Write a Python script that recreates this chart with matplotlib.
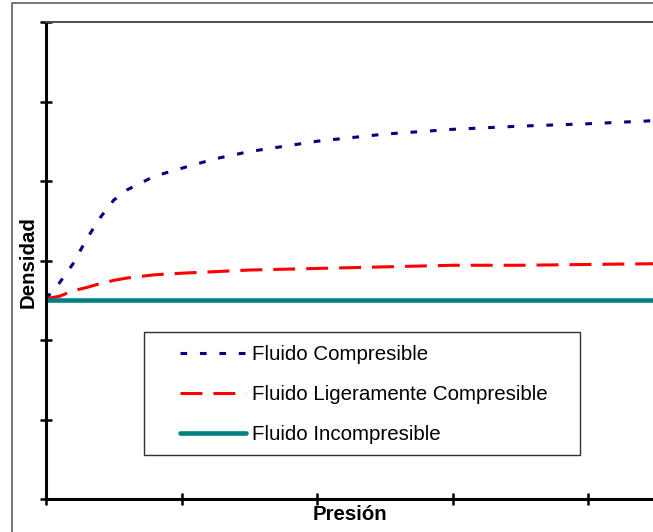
import matplotlib
matplotlib.use("Agg")
import matplotlib.pyplot as plt
from matplotlib.patches import Rectangle

plt.rcParams['font.family'] = ['Liberation Sans', 'DejaVu Sans']
plt.rcParams['lines.scale_dashes'] = False

# presión (unidades arbitrarias) y densidad de cada tipo de fluido
presion = [0, 0.1, 0.2, 0.3, 0.4, 0.5, 0.6, 0.8, 1.0, 1.25, 1.5,
           2.0, 2.5, 3.0, 3.5, 4.0, 4.5]
dens_compresible = [2.52, 2.72, 2.96, 3.27, 3.54, 3.76, 3.89, 4.06, 4.16,
                    4.28, 4.37, 4.50, 4.59, 4.65, 4.69, 4.72, 4.76]
dens_ligera = [2.52, 2.55, 2.62, 2.66, 2.71, 2.75, 2.78, 2.82, 2.84,
               2.86, 2.88, 2.90, 2.92, 2.94, 2.94, 2.95, 2.96]
dens_incompresible = [2.5] * len(presion)

etiquetas = ['Fluido Compresible', 'Fluido Ligeramente Compresible',
             'Fluido Incompresible']

W, H = 653, 532
fig = plt.figure(figsize=(W / 100, H / 100), dpi=100)

# marco exterior del gráfico
fig.patches.append(Rectangle((12 / W, -0.1), 1.2, 1 - 3 / H + 0.1,
                             transform=fig.transFigure, fill=False,
                             edgecolor='#606060', linewidth=1.2))

x0, x1 = 46, 655.8
y0, y1 = 22, 499
ax = fig.add_axes([x0 / W, 1 - y1 / H, (x1 - x0) / W, (y1 - y0) / H])

ax.plot(presion, dens_compresible, color='#000080', lw=2.2,
        dashes=(4.8, 9.2), dash_capstyle='butt', label=etiquetas[0])
ax.plot(presion, dens_ligera, color='#ff0000', lw=2.2,
        dashes=(15.8, 7.9), dash_capstyle='butt', label=etiquetas[1])
ax.plot(presion, dens_incompresible, color='#008080', lw=3.3,
        solid_capstyle='round', label=etiquetas[2])

ax.set_xlim(0, 4.5)
ax.set_ylim(0, 6)
ax.set_xticks(range(0, 5))
ax.set_yticks(range(0, 7))
ax.tick_params(direction='inout', length=8, width=1.8,
               labelleft=False, labelbottom=False)

for s in ('left', 'bottom'):
    ax.spines[s].set_linewidth(2.2)
    ax.spines[s].set_color('black')
ax.spines['top'].set_linewidth(1.4)
ax.spines['top'].set_color('#505050')
ax.spines['right'].set_visible(False)

ax.set_xlabel('Presión', fontsize=14.7, fontweight='bold', va='center')
ax.xaxis.set_label_coords((350 - x0) / (x1 - x0), -(515 - y1) / (y1 - y0))
ax.set_ylabel('Densidad', fontsize=14.7, fontweight='bold', va='center')
ax.yaxis.set_label_coords((28 - x0) / (x1 - x0), (y1 - 262) / (y1 - y0))

# caja de la leyenda
ax.add_patch(Rectangle((144 / W, 1 - 455 / H), (580 - 144) / W, (455 - 332) / H,
                       transform=fig.transFigure, facecolor='white',
                       edgecolor='#303030', linewidth=1.0, zorder=4))

leg = ax.legend(loc='upper left',
                bbox_to_anchor=(180 / W, 1 - 345 / H),
                bbox_transform=fig.transFigure,
                frameon=False, borderpad=0, borderaxespad=0,
                fontsize=14.8, handlelength=3.2, handletextpad=0.3,
                labelspacing=1.02)
leg.set_zorder(5)

fig.savefig('out.png', dpi=100)
